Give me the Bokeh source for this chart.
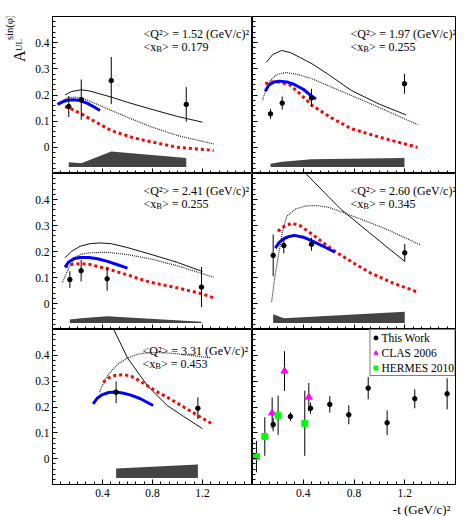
import math
from bokeh.plotting import figure
from bokeh.layouts import gridplot
from bokeh.models import Range1d, FixedTicker, Label, Legend, LegendItem, Title
from bokeh.embed import file_html
from bokeh.resources import INLINE

# ---------------- data ----------------
x_ticks = [0.4, 0.8, 1.2]
x_tick_labels = ["0.4", "0.8", "1.2"]
y_ticks = [0.0, 0.1, 0.2, 0.3, 0.4]
y_tick_labels = ["0", "0.1", "0.2", "0.3", "0.4"]

q2_labels = ["1.52", "1.97", "2.41", "2.60", "3.31"]
xb_labels = ["0.179", "0.255", "0.255", "0.345", "0.453"]

# panel 1
p1_t = [0.13, 0.23, 0.47, 1.07]
p1_a = [0.156, 0.182, 0.255, 0.164]
p1_err = [0.040, 0.077, 0.090, 0.066]
p1_sys = [0.018, 0.014, 0.059, 0.034]
p1_black_t = [0.10, 0.15, 0.23, 0.30, 0.47, 0.60, 0.78, 1.00, 1.20]
p1_black_a = [0.200, 0.213, 0.220, 0.215, 0.192, 0.172, 0.147, 0.118, 0.096]
p1_dot_t = [0.09, 0.13, 0.18, 0.25, 0.35, 0.47, 0.60, 0.78, 1.00, 1.29]
p1_dot_a = [0.182, 0.190, 0.192, 0.186, 0.166, 0.141, 0.115, 0.080, 0.045, 0.013]
p1_red_t = [0.10, 0.15, 0.23, 0.30, 0.47, 0.65, 0.78, 1.00, 1.29]
p1_red_a = [0.156, 0.147, 0.128, 0.109, 0.064, 0.036, 0.022, 0.000, -0.012]
p1_blue_t = [0.04, 0.08, 0.12, 0.17, 0.22, 0.28, 0.33, 0.38]
p1_blue_a = [0.164, 0.174, 0.180, 0.182, 0.179, 0.168, 0.155, 0.141]

# panel 2
p2_t = [0.142, 0.234, 0.465, 1.198]
p2_a = [0.128, 0.169, 0.189, 0.243]
p2_err = [0.019, 0.025, 0.035, 0.038]
p2_sys = [0.012, 0.020, 0.029, 0.034]
p2_black_t = [0.11, 0.16, 0.23, 0.30, 0.38, 0.47, 0.60, 0.78, 1.00, 1.21]
p2_black_a = [0.325, 0.355, 0.370, 0.362, 0.342, 0.319, 0.278, 0.217, 0.165, 0.124]
p2_dot_t = [0.08, 0.11, 0.14, 0.19, 0.26, 0.35, 0.47, 0.60, 0.78, 1.00, 1.30]
p2_dot_a = [0.182, 0.225, 0.255, 0.278, 0.286, 0.279, 0.262, 0.235, 0.198, 0.152, 0.087]
p2_red_t = [0.10, 0.15, 0.21, 0.29, 0.36, 0.47, 0.62, 0.78, 1.00, 1.30]
p2_red_a = [0.243, 0.250, 0.249, 0.240, 0.211, 0.160, 0.113, 0.071, 0.039, 0.000]
p2_blue_t = [0.10, 0.13, 0.17, 0.21, 0.27, 0.33, 0.40, 0.46, 0.50]
p2_blue_a = [0.215, 0.238, 0.250, 0.253, 0.250, 0.240, 0.222, 0.198, 0.185]

# panel 3
p3_t = [0.139, 0.229, 0.437, 1.192]
p3_a = [0.092, 0.126, 0.095, 0.063]
p3_err = [0.032, 0.041, 0.046, 0.077]
p3_sys = [0.013, 0.018, 0.026, 0.005]
p3_black_t = [0.10, 0.15, 0.22, 0.30, 0.38, 0.47, 0.60, 0.78, 1.00, 1.20]
p3_black_a = [0.176, 0.200, 0.220, 0.230, 0.233, 0.230, 0.215, 0.190, 0.158, 0.123]
p3_dot_t = [0.08, 0.11, 0.14, 0.18, 0.23, 0.30, 0.44, 0.60, 0.78, 1.00, 1.29]
p3_dot_a = [0.082, 0.115, 0.146, 0.178, 0.190, 0.195, 0.197, 0.188, 0.172, 0.145, 0.101]
p3_red_t = [0.10, 0.15, 0.23, 0.30, 0.44, 0.60, 0.78, 1.00, 1.20, 1.30]
p3_red_a = [0.140, 0.150, 0.153, 0.150, 0.133, 0.110, 0.082, 0.060, 0.037, 0.020]
p3_blue_t = [0.10, 0.13, 0.17, 0.22, 0.29, 0.36, 0.44, 0.52, 0.60]
p3_blue_a = [0.140, 0.160, 0.172, 0.177, 0.177, 0.172, 0.162, 0.149, 0.136]

# panel 4
p4_t = [0.163, 0.247, 0.465, 1.200]
p4_a = [0.185, 0.223, 0.228, 0.195]
p4_err = [0.080, 0.030, 0.025, 0.034]
p4_sys = [0.034, 0.018, 0.024, 0.043]
p4_black_t = [0.38, 0.42, 0.50, 0.60, 0.70, 0.80, 0.92, 1.05, 1.20]
p4_black_a = [0.550, 0.500, 0.460, 0.410, 0.361, 0.321, 0.273, 0.221, 0.162]
p4_dot_t = [0.15, 0.165, 0.18, 0.21, 0.235, 0.27, 0.34, 0.42, 0.50, 0.60, 0.71, 0.85, 1.05, 1.32]
p4_dot_a = [0.005, 0.060, 0.115, 0.200, 0.274, 0.335, 0.364, 0.375, 0.377, 0.370, 0.351, 0.325, 0.287, 0.226]
p4_red_t = [0.20, 0.25, 0.31, 0.38, 0.465, 0.56, 0.667, 0.80, 0.92, 1.10, 1.30]
p4_red_a = [0.278, 0.297, 0.309, 0.298, 0.268, 0.233, 0.195, 0.155, 0.120, 0.080, 0.044]
p4_blue_t = [0.18, 0.21, 0.25, 0.29, 0.33, 0.40, 0.465, 0.55, 0.65]
p4_blue_a = [0.213, 0.235, 0.250, 0.258, 0.262, 0.255, 0.242, 0.222, 0.197]

# panel 5
p5_t = [0.509, 1.163]
p5_a = [0.257, 0.195]
p5_err = [0.042, 0.042]
p5_sys = [0.037, 0.052]
p5_black_t = [0.45, 0.49, 0.54, 0.60, 0.68, 0.76, 0.84, 0.92, 1.05, 1.20]
p5_black_a = [0.540, 0.500, 0.450, 0.390, 0.336, 0.282, 0.243, 0.205, 0.163, 0.116]
p5_dot_t = [0.376, 0.40, 0.437, 0.48, 0.53, 0.597, 0.68, 0.757, 0.85, 0.95, 1.10, 1.27]
p5_dot_a = [0.257, 0.285, 0.319, 0.345, 0.368, 0.389, 0.404, 0.410, 0.411, 0.408, 0.400, 0.390]
p5_red_t = [0.405, 0.45, 0.50, 0.57, 0.65, 0.757, 0.85, 0.917, 1.05, 1.163, 1.285]
p5_red_a = [0.296, 0.313, 0.322, 0.326, 0.315, 0.283, 0.255, 0.238, 0.200, 0.167, 0.132]
p5_blue_t = [0.325, 0.36, 0.40, 0.45, 0.50, 0.56, 0.62, 0.70, 0.805]
p5_blue_a = [0.212, 0.235, 0.248, 0.256, 0.258, 0.254, 0.247, 0.233, 0.206]

# panel 6 (world data comparison)
this_t = [0.163, 0.299, 0.457, 0.609, 0.759, 0.912, 1.061, 1.279, 1.534]
this_a = [0.132, 0.163, 0.195, 0.210, 0.170, 0.273, 0.139, 0.232, 0.251]
this_err = [0.026, 0.017, 0.022, 0.032, 0.037, 0.043, 0.048, 0.037, 0.060]
clas_t = [0.155, 0.252, 0.444]
clas_a = [0.177, 0.339, 0.238]
clas_err = [0.060, 0.077, 0.055]
hermes_t = [0.031, 0.097, 0.202, 0.412]
hermes_a = [0.008, 0.086, 0.168, 0.137]
hermes_err = [0.061, 0.075, 0.076, 0.126]

panels = [
    (p1_t, p1_a, p1_err, p1_sys, p1_black_t, p1_black_a, p1_dot_t, p1_dot_a, p1_red_t, p1_red_a, p1_blue_t, p1_blue_a),
    (p2_t, p2_a, p2_err, p2_sys, p2_black_t, p2_black_a, p2_dot_t, p2_dot_a, p2_red_t, p2_red_a, p2_blue_t, p2_blue_a),
    (p3_t, p3_a, p3_err, p3_sys, p3_black_t, p3_black_a, p3_dot_t, p3_dot_a, p3_red_t, p3_red_a, p3_blue_t, p3_blue_a),
    (p4_t, p4_a, p4_err, p4_sys, p4_black_t, p4_black_a, p4_dot_t, p4_dot_a, p4_red_t, p4_red_a, p4_blue_t, p4_blue_a),
    (p5_t, p5_a, p5_err, p5_sys, p5_black_t, p5_black_a, p5_dot_t, p5_dot_a, p5_red_t, p5_red_a, p5_blue_t, p5_blue_a),
]

# ---------------- layout / style ----------------
FONT = "Liberation Serif"
X0, X1 = 0.0, 1.6
Y0, Y1 = -0.1, 0.5
TITLE_W = 30                      # narrow strip holding the y-axis title
FRAME_W = [200, 203]
FRAME_H = [157, 156, 155]
B_LEFT, B_RIGHT, B_TOP, B_BOTTOM = 52 - TITLE_W, 12, 16, 32
LEFT0 = TITLE_W + B_LEFT          # page x of the left frames
BAND_BASE = -0.075

x_minor = [round(i * 0.4 / 6, 5) for i in range(25)]
y_minor = [round(-0.1 + 0.02 * i, 3) for i in range(31)]


def frame_box(row, col):
    left = LEFT0 + (FRAME_W[0] if col == 1 else 0)
    right = left + FRAME_W[col]
    top = B_TOP + sum(FRAME_H[:row])
    bottom = top + FRAME_H[row]
    return left, right, top, bottom


def to_data(row, col, px, py):
    l, r, t, b = frame_box(row, col)
    return X0 + (px - l) / (r - l) * (X1 - X0), Y1 - (py - t) / (b - t) * (Y1 - Y0)


def add_text(p, row, col, px, py, text, size, angle=0.0):
    x, y = to_data(row, col, px, py)
    p.add_layout(Label(x=x, y=y, text=text, text_font=FONT,
                       text_font_size=f"{size}px", text_color="black",
                       text_align="left", text_baseline="alphabetic",
                       angle=angle))


def make_panel(row, col):
    ml = B_LEFT if col == 0 else 0
    mr = 0 if col == 0 else B_RIGHT
    mt = B_TOP if row == 0 else 0
    mb = B_BOTTOM if row == 2 else 0
    p = figure(width=FRAME_W[col] + ml + mr, height=FRAME_H[row] + mt + mb,
               x_range=Range1d(X0, X1), y_range=Range1d(Y0, Y1),
               output_backend="svg", toolbar_location=None,
               min_border_left=ml, min_border_right=mr,
               min_border_top=mt, min_border_bottom=mb)
    p.background_fill_color = "white"
    p.border_fill_color = "white"
    p.outline_line_color = "black"
    p.outline_line_width = 1
    p.xgrid.visible = False
    p.ygrid.visible = False
    xa, ya = p.xaxis[0], p.yaxis[0]
    xa.ticker = FixedTicker(ticks=x_ticks, minor_ticks=x_minor)
    ya.ticker = FixedTicker(ticks=y_ticks, minor_ticks=y_minor)
    xa.major_label_overrides = dict(zip(x_ticks, x_tick_labels))
    ya.major_label_overrides = dict(zip(y_ticks, y_tick_labels))
    for ax in (xa, ya):
        ax.major_tick_in = 5
        ax.major_tick_out = 0
        ax.minor_tick_in = 3
        ax.minor_tick_out = 0
        ax.axis_line_color = "black"
        ax.major_tick_line_color = "black"
        ax.minor_tick_line_color = "black"
        ax.major_label_text_font = FONT
        ax.major_label_text_font_size = "11.5px"
        ax.major_label_text_color = "black"
        ax.major_label_standoff = 3
    xa.major_label_standoff = 4
    if row < 2:
        xa.major_label_text_color = None
        xa.major_label_standoff = 0
    if col == 1:
        ya.major_label_text_color = None
        ya.major_label_standoff = 0
    return p


def draw_model_panel(p, data):
    t, a, err, sys_h, bt, ba, dt, da, rt, ra, ut, ua = data
    p.varea(x=t, y1=[BAND_BASE] * len(t), y2=[BAND_BASE + s for s in sys_h],
            fill_color="#444444")
    p.line(bt, ba, line_color="#111111", line_width=1)
    p.line(dt, da, line_color="#222222", line_width=1.2, line_dash="1 1")
    p.line(rt, ra, line_color="#ff0000", line_width=3, line_dash="3 3")
    p.line(ut, ua, line_color="#0000ff", line_width=3)
    p.segment(x0=t, y0=[v - e for v, e in zip(a, err)], x1=t,
              y1=[v + e for v, e in zip(a, err)], line_color="black", line_width=1)
    p.scatter(t, a, marker="circle", size=4.5, color="black")


TEXT_POS = [(143, 33), (350, 33), (143, 190), (350, 190), (142, 350)]

figs = {}
for row in range(3):
    for col in range(2):
        figs[(row, col)] = make_panel(row, col)

for k in range(5):
    row, col = divmod(k, 2)
    p = figs[(row, col)]
    draw_model_panel(p, panels[k])
    px0, base = TEXT_POS[k]
    add_text(p, row, col, px0, base, f"<Q²> = {q2_labels[k]} (GeV/c)²", 12)
    add_text(p, row, col, px0, base + 13, "<x", 12)
    add_text(p, row, col, px0 + 12.8, base + 15.5, "B", 8.5)
    add_text(p, row, col, px0 + 18.5, base + 13, f"> = {xb_labels[k]}", 12)

# ---- y axis title: a narrow strip whose frame is in page pixels ----
row0_h = B_TOP + FRAME_H[0]
tf = figure(width=TITLE_W, height=row0_h, x_range=Range1d(0, TITLE_W),
            y_range=Range1d(row0_h, 0), output_backend="svg",
            toolbar_location=None, min_border=0, min_border_left=0,
            min_border_right=0, min_border_top=0, min_border_bottom=0)
tf.axis.visible = False
tf.grid.visible = False
tf.outline_line_color = None
tf.background_fill_color = "white"
tf.border_fill_color = "white"
for px, py, txt, size in ((18.5, 50, "A", 16), (18.0, 38, "UL", 9),
                          (8.5, 26, "sin(φ)", 10.5)):
    tf.add_layout(Label(x=px, y=py, text=txt, text_font=FONT,
                        text_font_size=f"{size}px", text_color="black",
                        text_align="left", text_baseline="alphabetic",
                        angle=math.pi / 2))

# ---- panel 6 ----
p6 = figs[(2, 1)]
for tt, aa, ee in ((this_t, this_a, this_err), (clas_t, clas_a, clas_err),
                   (hermes_t, hermes_a, hermes_err)):
    p6.segment(x0=tt, y0=[v - e for v, e in zip(aa, ee)], x1=tt,
               y1=[v + e for v, e in zip(aa, ee)], line_color="black", line_width=1)
r_this = p6.scatter(this_t, this_a, marker="circle", size=4.5, color="black")
r_clas = p6.scatter(clas_t, clas_a, marker="triangle", size=7, color="#ff00ff")
r_herm = p6.scatter(hermes_t, hermes_a, marker="square", size=6, color="#00ff00")
legend = Legend(items=[LegendItem(label="This Work", renderers=[r_this]),
                       LegendItem(label="CLAS 2006", renderers=[r_clas]),
                       LegendItem(label="HERMES 2010", renderers=[r_herm])],
                location="top_right", margin=0, padding=0, spacing=0,
                glyph_width=10, glyph_height=15, label_height=15,
                label_standoff=1, label_text_font=FONT,
                label_text_font_size="11.5px", label_text_color="black",
                border_line_color="black", border_line_width=1,
                background_fill_color="white", background_fill_alpha=1)
p6.add_layout(legend)
p6.add_layout(Title(text="-t (GeV/c)²", align="right", offset=5, standoff=0,
                    text_font=FONT, text_font_size="13px",
                    text_font_style="normal", text_color="black"), "below")

grid = gridplot([[tf, figs[(0, 0)], figs[(0, 1)]],
                 [None, figs[(1, 0)], figs[(1, 1)]],
                 [None, figs[(2, 0)], figs[(2, 1)]]], toolbar_location=None)

open("out.html", "w").write(file_html(grid, INLINE))
